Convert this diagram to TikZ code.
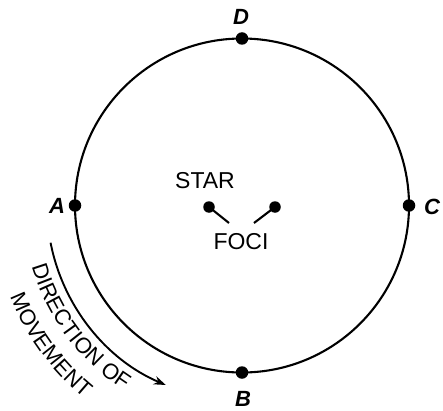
\documentclass[tikz,border=0pt]{standalone}
\usepackage{fontspec}
\setmainfont{Liberation Sans}
\usetikzlibrary{arrows.meta,decorations.text,calc}
\begin{document}
\begin{tikzpicture}[x=1pt,y=1pt,
  dot/.style={circle,fill=black,inner sep=0pt,minimum size=12.5pt},
  fdot/.style={circle,fill=black,inner sep=0pt,minimum size=11.5pt},
  ptlabel/.style={font=\fontsize{22}{26}\selectfont\bfseries\itshape,inner sep=0pt},
  txt/.style={font=\fontsize{23}{27}\selectfont,inner sep=0pt},
  orbit/.style={line width=2.1pt},
  stick/.style={line width=2.1pt},
  movearrow/.style={line width=1.9pt,-{Stealth[length=12pt,width=8.5pt]}}]
\useasboundingbox (0,0) rectangle (443,410);
\coordinate (O) at (242,204.5);
\draw[orbit] (O) circle[radius=167];
\node[dot] (A) at (75,204.5) {};
\node[dot] (C) at (409,204.5) {};
\node[dot] (D) at (242,371.5) {};
\node[dot] (B) at (242,37.5) {};
\node[ptlabel] (lA) at (57,204) {A};
\node[ptlabel] (lC) at (432,203) {C};
\node[ptlabel] (lD) at (241,393) {D};
\node[ptlabel] (lB) at (243,11) {B};
\node[fdot] (F1) at (209,203) {};
\node[fdot] (F2) at (275,203) {};
\coordinate (E1) at (229,187);
\coordinate (E2) at (254,187);
\draw[stick] (F1.center) -- (E1);
\draw[stick] (F2.center) -- (E2);
\node[txt] (star) at (205,229) {STAR};
\node[txt] (foci) at (241,168) {FOCI};
\draw[movearrow] ($(O)+(191:195)$) arc[start angle=191, end angle=247, radius=195];
\path[decorate, decoration={text along path, text align=center,
  text={|\fontsize{22}{26}\selectfont|DIRECTION OF}}]
  ($(O)+(186.8:219)$) arc[start angle=186.8, end angle=246.8, radius=219];
\path[decorate, decoration={text along path, text align=center,
  text={|\fontsize{22}{26}\selectfont|MOVEMENT}}]
  ($(O)+(186:249)$) arc[start angle=186, end angle=246, radius=249];
\end{tikzpicture}
\end{document}
